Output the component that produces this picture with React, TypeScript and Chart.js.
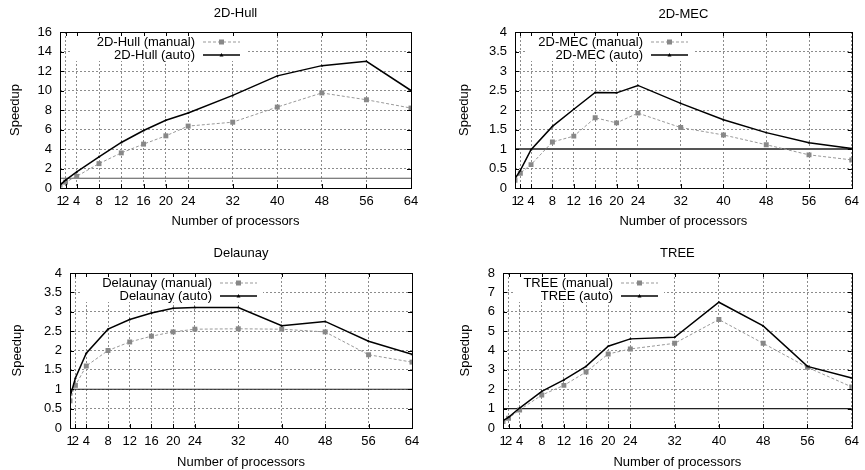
import React, { useEffect, useRef } from "react";
import { Chart, registerables } from "chart.js";

Chart.register(...registerables);

const processors = [1, 2, 4, 8, 12, 16, 20, 24, 32, 40, 48, 56, 64];

const hullManual = [0.3, 0.6, 1.2, 2.5, 3.6, 4.5, 5.35, 6.35, 6.75, 8.3, 9.75, 9.05, 8.2];
const hullAuto = [0.3, 0.8, 1.65, 3.2, 4.67, 5.9, 6.95, 7.7, 9.5, 11.5, 12.55, 13.0, 10.0];

const mecManual = [0.2, 0.38, 0.6, 1.18, 1.33, 1.8, 1.67, 1.92, 1.55, 1.36, 1.11, 0.85, 0.72];
const mecAuto = [0.24, 0.45, 0.98, 1.58, 2.02, 2.45, 2.44, 2.63, 2.17, 1.75, 1.42, 1.16, 1.01];

const delaunayManual = [0.7, 1.1, 1.6, 2.0, 2.22, 2.37, 2.48, 2.55, 2.56, 2.55, 2.48, 1.89, 1.7];
const delaunayAuto = [0.8, 1.29, 1.93, 2.55, 2.8, 2.97, 3.09, 3.11, 3.11, 2.64, 2.75, 2.24, 1.9];

const treeManual = [0.34, 0.5, 0.93, 1.7, 2.2, 2.89, 3.82, 4.08, 4.37, 5.6, 4.37, 3.13, 2.12];
const treeAuto = [0.38, 0.55, 1.03, 1.89, 2.48, 3.18, 4.22, 4.6, 4.68, 6.49, 5.27, 3.18, 2.58];

const panelTitles = ["2D-Hull", "2D-MEC", "Delaunay", "TREE"];
const manualSeries = [hullManual, mecManual, delaunayManual, treeManual];
const autoSeries = [hullAuto, mecAuto, delaunayAuto, treeAuto];
const yMaxes = [16, 4, 4, 8];
const ySteps = [2, 0.5, 0.5, 1];
const baseline = 1;

const xTitle = "Number of processors";
const yTitle = "Speedup";

const FONT = "'Liberation Sans', Arial, Helvetica, sans-serif";

// layout per panel (canvas position and plot area inside canvas)
const layouts = [
  { left: 0, top: 0, w: 432, h: 235, pl: 60, pr: 411, pt: 32, pb: 188, yTitleX: 15, titleY: 13, xTitleY: 221, legendRight: 195, baseColor: "#555", baseWidth: 1.2 },
  { left: 432, top: 0, w: 433, h: 235, pl: 83, pr: 426, pt: 32, pb: 188, yTitleX: 32, titleY: 14, xTitleY: 221, legendRight: 211, baseColor: "#555", baseWidth: 2 },
  { left: 0, top: 235, w: 432, h: 235, pl: 70, pr: 412, pt: 38, pb: 193, yTitleX: 17, titleY: 18, xTitleY: 227, legendRight: 212, baseColor: "#222", baseWidth: 1.2 },
  { left: 432, top: 235, w: 433, h: 235, pl: 71, pr: 428, pt: 38, pb: 193, yTitleX: 33, titleY: 18, xTitleY: 227, legendRight: 181, baseColor: "#222", baseWidth: 1.2 },
];

function makePlugin(idx: number) {
  const L = layouts[idx];
  return {
    id: "gnuplotDecor" + idx,
    beforeDatasetsDraw(chart: any) {
      const ctx = chart.ctx;
      const { top } = chart.chartArea;
      const xs = chart.scales.x;
      const ds = chart.data.datasets;
      const boxLeft = xs.getPixelForValue(3);
      const sStart = L.legendRight + 8;
      const sEnd = L.legendRight + 45;
      ctx.save();
      ctx.fillStyle = "#fff";
      ctx.fillRect(boxLeft, top + 1, sEnd + 6 - boxLeft, 28);
      ctx.font = "13px " + FONT;
      ctx.textAlign = "right";
      ctx.textBaseline = "middle";
      for (let i = 0; i < 2; i++) {
        const d = ds[i];
        const y = top + 10 + i * 13;
        ctx.fillStyle = "#000";
        ctx.fillText(d.label, L.legendRight, y);
        ctx.strokeStyle = d.borderColor;
        ctx.lineWidth = d.borderWidth;
        ctx.setLineDash(d.borderDash || []);
        ctx.beginPath();
        ctx.moveTo(sStart, y);
        ctx.lineTo(sEnd, y);
        ctx.stroke();
        ctx.setLineDash([]);
        const mx = (sStart + sEnd) / 2;
        ctx.fillStyle = d.pointBackgroundColor;
        if (d.pointStyle === "rect") {
          ctx.fillRect(mx - 2.5, y - 2.5, 5, 5);
        } else {
          ctx.beginPath();
          ctx.moveTo(mx, y - 2);
          ctx.lineTo(mx + 2, y + 1.5);
          ctx.lineTo(mx - 2, y + 1.5);
          ctx.closePath();
          ctx.fill();
        }
      }
      ctx.restore();
    },
    afterDraw(chart: any) {
      const ctx = chart.ctx;
      const { left, right, top, bottom } = chart.chartArea;
      const xs = chart.scales.x;
      const ys = chart.scales.y;
      ctx.save();
      // border box
      ctx.strokeStyle = "#000";
      ctx.lineWidth = 1;
      ctx.setLineDash([]);
      ctx.strokeRect(Math.round(left) + 0.5, Math.round(top) + 0.5, Math.round(right - left), Math.round(bottom - top));
      // inner tick marks
      ctx.beginPath();
      for (const v of processors) {
        const x = Math.round(xs.getPixelForValue(v)) + 0.5;
        ctx.moveTo(x, bottom);
        ctx.lineTo(x, bottom - 4);
        ctx.moveTo(x, top);
        ctx.lineTo(x, top + 4);
      }
      for (const t of ys.ticks) {
        const y = Math.round(ys.getPixelForValue(t.value)) + 0.5;
        ctx.moveTo(left, y);
        ctx.lineTo(left + 4, y);
        ctx.moveTo(right, y);
        ctx.lineTo(right - 4, y);
      }
      ctx.stroke();
      // titles
      ctx.fillStyle = "#000";
      ctx.font = "13px " + FONT;
      ctx.textAlign = "center";
      ctx.textBaseline = "middle";
      const cx = (left + right) / 2;
      ctx.fillText(panelTitles[idx], cx, L.titleY);
      ctx.fillText(xTitle, cx, L.xTitleY);
      ctx.translate(L.yTitleX, (top + bottom) / 2);
      ctx.rotate(-Math.PI / 2);
      ctx.fillText(yTitle, 0, 0);
      ctx.restore();
    },
  };
}

function Panel({ idx }: { idx: number }) {
  const ref = useRef<HTMLCanvasElement | null>(null);
  const L = layouts[idx];
  useEffect(() => {
    if (!ref.current) return;
    const name = panelTitles[idx];
    const chart = new Chart(ref.current, {
      type: "line",
      data: {
        datasets: [
          {
            label: name + " (manual)",
            data: processors.map((p, i) => ({ x: p, y: manualSeries[idx][i] })),
            borderColor: "#999",
            borderWidth: 1,
            borderDash: [3, 2],
            pointStyle: "rect",
            pointRadius: 3.5,
            pointBackgroundColor: "#888",
            pointBorderColor: "#888",
            pointBorderWidth: 0,
            order: 1,
          },
          {
            label: name + " (auto)",
            data: processors.map((p, i) => ({ x: p, y: autoSeries[idx][i] })),
            borderColor: "#000",
            borderWidth: 1.5,
            pointStyle: "triangle",
            pointRadius: 1.5,
            pointBackgroundColor: "#000",
            pointBorderColor: "#000",
            pointBorderWidth: 0,
            order: 0,
          },
          {
            label: "baseline",
            data: [
              { x: processors[0], y: baseline },
              { x: processors[processors.length - 1], y: baseline },
            ],
            borderColor: L.baseColor,
            borderWidth: L.baseWidth,
            pointRadius: 0,
            order: 2,
          },
        ] as any,
      },
      options: {
        animation: false,
        responsive: false,
        devicePixelRatio: 1,
        layout: { padding: { left: 0, top: L.pt, right: L.w - L.pr, bottom: 0 } },
        plugins: { legend: { display: false }, title: { display: false }, tooltip: { enabled: false } },
        elements: { line: { tension: 0 } },
        scales: {
          x: {
            type: "linear",
            min: 1,
            max: 64,
            afterBuildTicks: (scale: any) => {
              scale.ticks = processors.map((v) => ({ value: v }));
            },
            afterFit: (scale: any) => {
              scale.height = L.h - L.pb;
            },
            ticks: {
              autoSkip: false,
              maxRotation: 0,
              padding: 6,
              color: "#000",
              font: { family: FONT, size: 13 },
              callback: (v: any) => String(v),
            },
            grid: { color: "#8c8c8c", lineWidth: 1, drawTicks: false },
            border: { display: false, dash: [2, 2] },
          },
          y: {
            type: "linear",
            min: 0,
            max: yMaxes[idx],
            afterFit: (scale: any) => {
              scale.width = L.pl;
            },
            ticks: {
              stepSize: ySteps[idx],
              padding: 8,
              color: "#000",
              font: { family: FONT, size: 13 },
              callback: (v: any) => String(v),
            },
            grid: { color: "#8c8c8c", lineWidth: 1, drawTicks: false },
            border: { display: false, dash: [2, 2] },
          },
        },
      } as any,
      plugins: [makePlugin(idx)],
    });
    return () => chart.destroy();
  }, [idx]);
  return (
    <canvas
      ref={ref}
      width={L.w}
      height={L.h}
      style={{ position: "absolute", left: L.left, top: L.top, width: L.w, height: L.h }}
    />
  );
}

export default function App() {
  return (
    <div style={{ position: "absolute", left: 0, top: 0, width: 865, height: 470, background: "#fff" }}>
      {[0, 1, 2, 3].map((i) => (
        <Panel key={i} idx={i} />
      ))}
    </div>
  );
}
